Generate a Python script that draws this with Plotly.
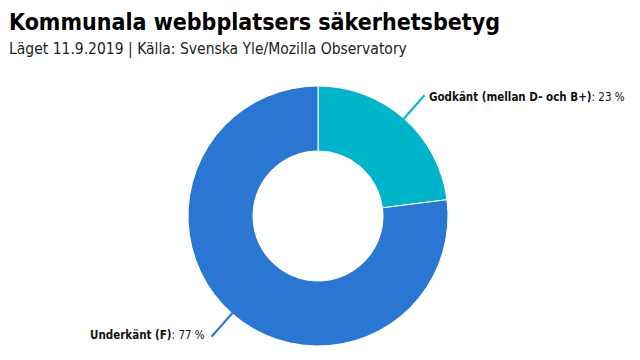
import math
import plotly.graph_objects as go

categories = ["Godkänt (mellan D- och B+)", "Underkänt (F)"]
values = [23, 77]
colors = ["#00b5c9", "#2b76d2"]

# the page body has an 8px margin; the figure fills the rest of the 640x360 window
OFF = 8
W, H = 640 - 2 * OFF, 360 - 2 * OFF
cx, cy, R = 318, 216, 130
FONT = "DejaVu Sans Condensed, Liberation Sans Narrow, Roboto, sans-serif"

def px(x):
    return (x - OFF) / W

def py(y):
    return 1 - (y - OFF) / H

fig = go.Figure()
fig.add_trace(go.Pie(
    labels=categories, values=values, hole=0.5, sort=False,
    direction="clockwise", rotation=0,
    marker=dict(colors=colors, line=dict(color="white", width=1)),
    textinfo="none", hoverinfo="label+percent", showlegend=False,
    domain=dict(x=[px(cx - R), px(cx + R)], y=[py(cy + R), py(cy - R)]),
))

total = sum(values)
start = 0.0
shapes = []
annotations = []
for cat, v, c in zip(categories, values, colors):
    frac = v / total
    mid = (start + frac / 2) * 2 * math.pi
    start += frac
    sx, sy = math.sin(mid), -math.cos(mid)
    x0, y0 = cx + (R - 1) * sx, cy + (R - 1) * sy
    x1, y1 = cx + (R + 31) * sx, cy + (R + 31) * sy
    shapes.append(dict(type="line", xref="paper", yref="paper",
                       x0=px(x0), y0=py(y0), x1=px(x1), y1=py(y1),
                       line=dict(color=c, width=2)))
    right = sx >= 0
    pct = round(v)
    annotations.append(dict(
        xref="paper", yref="paper",
        x=px(x1 + (3 if right else -5)), y=py(y1 + (2 if right else -2)),
        xanchor="left" if right else "right", yanchor="middle",
        text=f"<b>{cat}</b>: {pct} %", showarrow=False,
        font=dict(family=FONT, size=11.5, color="#111111"),
    ))

annotations.append(dict(xref="paper", yref="paper", x=px(7), y=py(22),
                        xanchor="left", yanchor="middle", showarrow=False,
                        text="<b>Kommunala webbplatsers säkerhetsbetyg</b>",
                        font=dict(family=FONT, size=23, color="#000000")))
annotations.append(dict(xref="paper", yref="paper", x=px(7), y=py(49),
                        xanchor="left", yanchor="middle", showarrow=False,
                        text="Läget 11.9.2019 | Källa: Svenska Yle/Mozilla Observatory",
                        font=dict(family=FONT, size=15.5, color="#222222")))

fig.update_layout(
    width=W, height=H, margin=dict(l=0, r=0, t=0, b=0),
    paper_bgcolor="white", plot_bgcolor="white",
    shapes=shapes, annotations=annotations,
)
fig.write_html("out.html")
